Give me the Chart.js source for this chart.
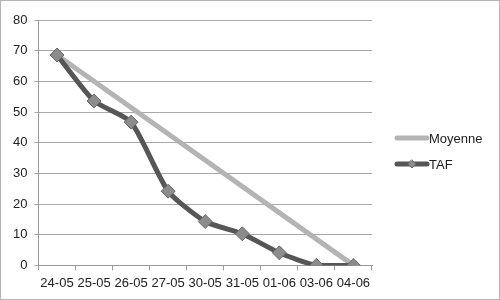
<!DOCTYPE html>
<html>
<head>
    <title>TAF</title>
    <style>
        body {
            margin: 0;
            padding: 0;
            background-color: #fff;
        }

        .chart-wrapper {
            width: 500px;
            height: 300px;
            box-sizing: border-box;
            border: 1px solid #b5b5b5;
            position: relative;
        }
    </style>
</head>
<body>
<div class="chart-wrapper">
    <canvas id="tafChart"></canvas>
</div>

<script src="https://cdn.jsdelivr.net/npm/chart.js@4.4.1/dist/chart.umd.min.js"></script>
<script>
    const jours = ['24-05', '25-05', '26-05', '27-05', '30-05', '31-05', '01-06', '03-06', '04-06'];
    const moyenne = [68.6, null, null, null, null, null, null, null, 0];
    const taf = [68.6, 53.6, 46.7, 24.2, 14.3, 10.3, 4.1, 0, 0];

    // legende dessinee a la main, a droite du graphique
    const legendeDroite = {
        id: 'legendeDroite',
        afterDraw(chart) {
            const ctx = chart.ctx;
            const x0 = 396, x1 = 426;
            const ys = [137, 163];
            ctx.save();
            chart.data.datasets.forEach((ds, i) => {
                const y = ys[i];
                ctx.strokeStyle = ds.borderColor;
                ctx.lineWidth = 5;
                ctx.lineCap = 'round';
                ctx.beginPath();
                ctx.moveTo(x0, y);
                ctx.lineTo(x1, y);
                ctx.stroke();
                if (ds.pointRadius > 0) {
                    ctx.fillStyle = ds.pointBackgroundColor;
                    ctx.strokeStyle = ds.pointBorderColor;
                    ctx.lineWidth = 1;
                    ctx.beginPath();
                    const cx = (x0 + x1) / 2, r = 4;
                    ctx.moveTo(cx, y - r);
                    ctx.lineTo(cx + r, y);
                    ctx.lineTo(cx, y + r);
                    ctx.lineTo(cx - r, y);
                    ctx.closePath();
                    ctx.fill();
                    ctx.stroke();
                }
                ctx.fillStyle = '#222';
                ctx.font = '13px "Liberation Sans", Arial, sans-serif';
                ctx.textBaseline = 'middle';
                ctx.fillText(ds.label, x1 + 2, y + 1);
            });
            ctx.restore();
        }
    };

    const ctx = document.getElementById('tafChart');

    new Chart(ctx, {
        type: 'line',
        data: {
            labels: jours,
            datasets: [{
                label: 'Moyenne',
                data: moyenne,
                borderColor: '#b4b4b4',
                borderWidth: 5,
                pointRadius: 0,
                spanGaps: true,
                order: 2
            }, {
                label: 'TAF',
                data: taf,
                borderColor: '#565656',
                borderWidth: 5,
                pointStyle: 'rectRot',
                pointRadius: 7,
                pointHoverRadius: 7,
                pointBackgroundColor: '#8c8c8c',
                pointBorderColor: '#6a6a6a',
                pointBorderWidth: 1,
                tension: 0.2,
                order: 1
            }]
        },
        options: {
            responsive: true,
            maintainAspectRatio: false,
            animation: false,
            layout: {
                padding: { top: 19, right: 127, left: 5, bottom: 3 }
            },
            scales: {
                x: {
                    offset: true,
                    grid: {
                        offset: true,
                        drawOnChartArea: false,
                        drawTicks: true,
                        tickLength: 5,
                        color: '#999'
                    },
                    border: { color: '#999', width: 1 },
                    ticks: {
                        color: '#222',
                        font: { size: 13, family: '"Liberation Sans", Arial, sans-serif' },
                        maxRotation: 0,
                        autoSkip: false,
                        padding: 5
                    }
                },
                y: {
                    min: 0,
                    max: 80,
                    ticks: {
                        stepSize: 10,
                        color: '#222',
                        font: { size: 13, family: '"Liberation Sans", Arial, sans-serif' },
                        padding: 7
                    },
                    grid: {
                        color: '#a8a8a8',
                        tickLength: 4
                    },
                    border: { color: '#999', width: 1 }
                }
            },
            plugins: {
                legend: { display: false },
                tooltip: { enabled: false }
            }
        },
        plugins: [legendeDroite]
    });
</script>
</body>
</html>
